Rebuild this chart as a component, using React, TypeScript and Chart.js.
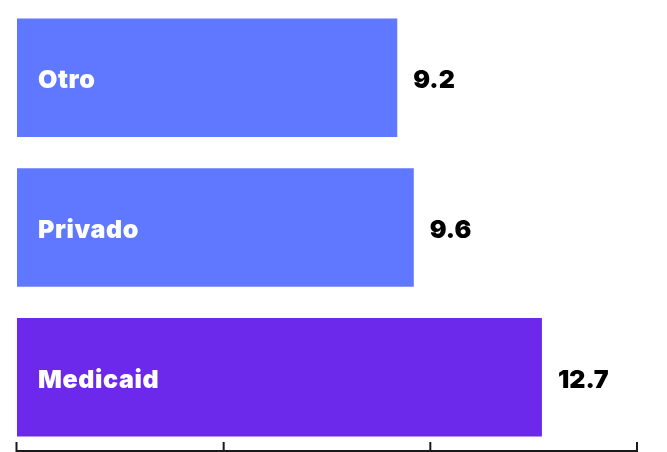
import React, { useEffect, useRef } from "react";
import { Chart, registerables } from "chart.js";

Chart.register(...registerables);

const categories = ["Otro", "Privado", "Medicaid"];
const values = [9.2, 9.6, 12.7];
const barColors = ["#6078FF", "#6078FF", "#6D29EB"];
const tickValues = [0, 5, 10, 15];

const FONT = '900 25px Inter';

const labelPlugin = {
  id: "labelPlugin",
  afterDatasetsDraw(chart: any) {
    const ctx = chart.ctx;
    const meta = chart.getDatasetMeta(0);
    ctx.save();
    ctx.font = FONT;
    ctx.textBaseline = "alphabetic";
    ctx.textAlign = "left";
    meta.data.forEach((bar: any, i: number) => {
      const y = bar.y + 10.5;
      ctx.fillStyle = "#ffffff";
      (ctx as any).letterSpacing = "0.6px";
      ctx.fillText(categories[i], bar.base + 21, y);
      (ctx as any).letterSpacing = "0px";
      ctx.fillStyle = "#000000";
      ctx.fillText(values[i].toFixed(1), bar.x + 16, y);
    });
    ctx.restore();
  },
  afterDraw(chart: any) {
    const ctx = chart.ctx;
    const xs = chart.scales.x;
    const bottom = 451;
    ctx.save();
    ctx.strokeStyle = "#1a1a1a";
    ctx.lineWidth = 2;
    ctx.beginPath();
    const x0 = xs.getPixelForValue(tickValues[0]) - 0.5;
    const x1 = xs.getPixelForValue(tickValues[tickValues.length - 1]);
    ctx.moveTo(x0 - 1, bottom);
    ctx.lineTo(x1 + 1, bottom);
    tickValues.forEach((v, i) => {
      const px = xs.getPixelForValue(v) - (i === 0 ? 0.5 : 0);
      ctx.moveTo(px, bottom);
      ctx.lineTo(px, 442);
    });
    ctx.stroke();
    ctx.restore();
  },
};

export default function App() {
  const ref = useRef<HTMLCanvasElement>(null);
  useEffect(() => {
    if (!ref.current) return;
    const chart = new Chart(ref.current, {
      type: "bar",
      data: {
        labels: categories,
        datasets: [
          {
            data: values,
            backgroundColor: barColors,
            borderWidth: 0,
            barPercentage: 0.792,
            categoryPercentage: 1,
          },
        ],
      },
      options: {
        indexAxis: "y",
        animation: false,
        responsive: false,
        layout: { padding: { left: 17, right: 30, top: 3, bottom: 0 } },
        plugins: { legend: { display: false }, tooltip: { enabled: false } },
        scales: {
          x: { display: false, min: 0, max: 15 },
          y: { display: false },
        },
      },
      plugins: [labelPlugin],
    });
    return () => chart.destroy();
  }, []);
  return (
    <div style={{ position: "absolute", left: 0, top: 0, width: 667, height: 452 }}>
      <canvas ref={ref} width={667} height={452} />
    </div>
  );
}
